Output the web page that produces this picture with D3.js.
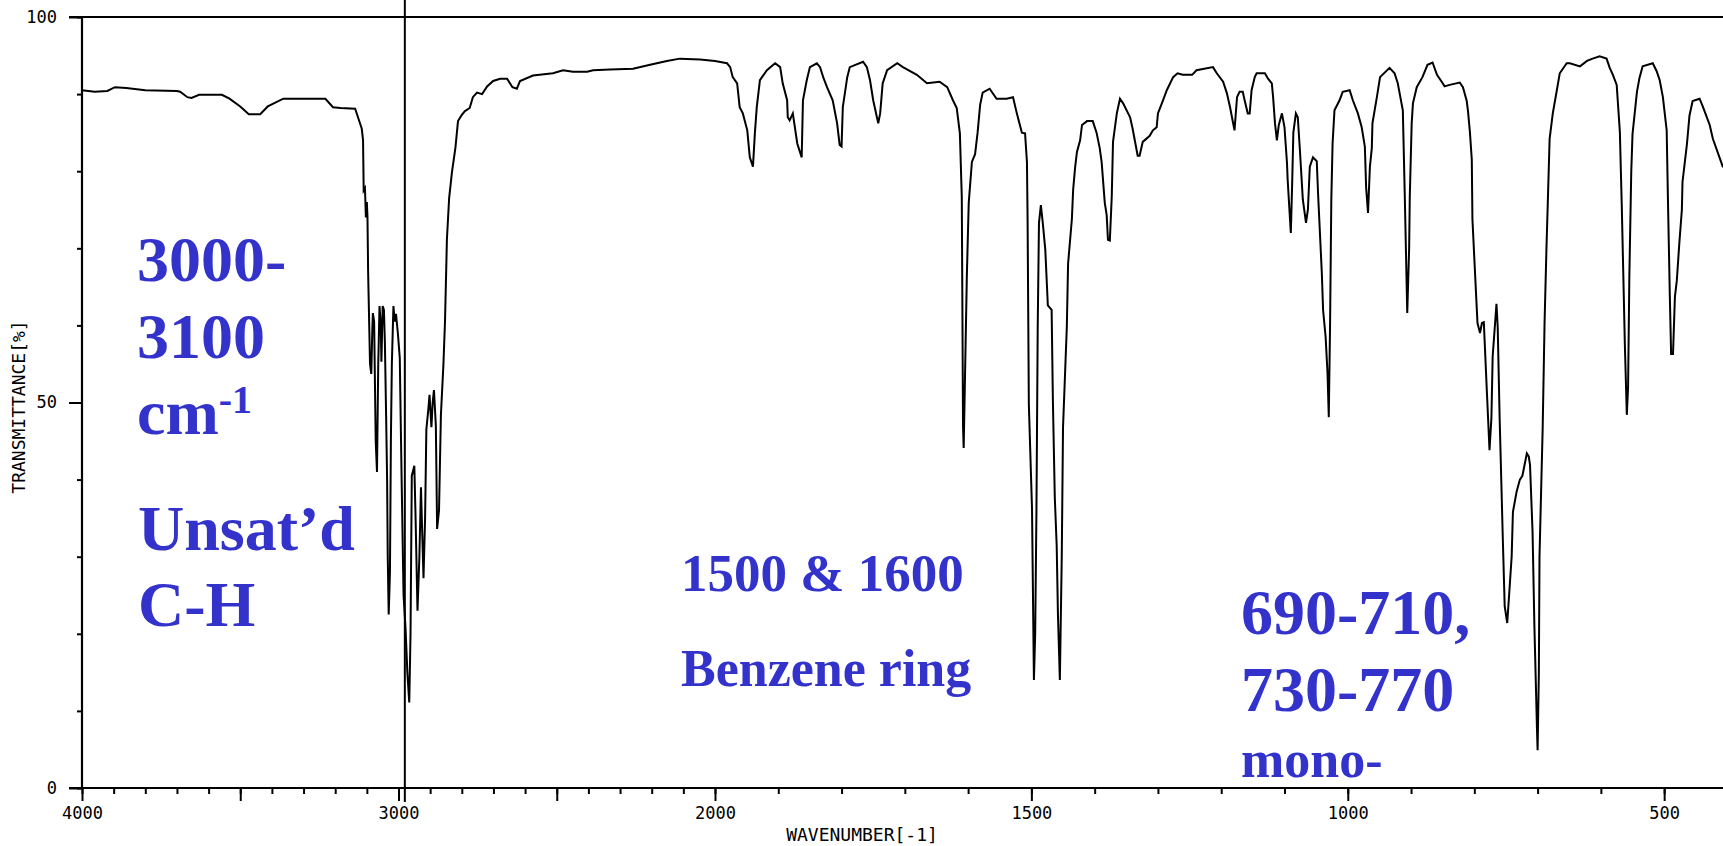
<!DOCTYPE html>
<html>
<head>
<meta charset="utf-8">
<script src="https://cdn.jsdelivr.net/npm/d3@7/dist/d3.min.js"></script>
<style>
  html, body { margin: 0; padding: 0; background: #fff; }
  svg { display: block; }
  .tick text { font-family: "DejaVu Sans Mono", monospace; font-size: 17px; fill: #000; }
  .note { font-family: "Liberation Serif", "Times New Roman", serif; font-weight: bold; fill: #3333cc; }
</style>
</head>
<body>
<svg id="chart" width="1723" height="846"></svg>
<script>
// spectrum, high -> low wavenumber
var wavenumber = [
  4000, 3960, 3920, 3896, 3860, 3800, 3700, 3690, 3667, 3654, 3630, 3558, 3534, 3500, 3473, 3437, 3413, 3364, 3231, 3207,
  3183, 3137, 3128, 3116, 3112, 3110, 3106, 3103, 3100, 3098, 3096, 3092, 3090, 3086, 3083, 3081, 3077, 3072, 3068, 3064,
  3060, 3056, 3054, 3050, 3046, 3043, 3039, 3036, 3034, 3031, 3027, 3024, 3021, 3016, 3012, 3008, 3002, 2996, 2990, 2984,
  2978, 2972, 2966, 2962, 2958, 2950, 2946, 2940, 2934, 2929, 2925, 2921, 2916, 2912, 2906, 2902, 2896, 2892, 2888, 2882,
  2878, 2872, 2866, 2858, 2853, 2847, 2840, 2831, 2820, 2812, 2800, 2790, 2775, 2765, 2752, 2736, 2720, 2701, 2679, 2657,
  2640, 2626, 2616, 2575, 2512, 2480, 2449, 2404, 2385, 2332, 2259, 2205, 2152, 2111, 2047, 2000, 1981, 1976, 1972, 1965,
  1961, 1956, 1949, 1945, 1940, 1937, 1934, 1929, 1918, 1905, 1897, 1893, 1886, 1885, 1882, 1877, 1870, 1863, 1861, 1855,
  1850, 1839, 1834, 1829, 1823, 1814, 1807, 1803, 1800, 1798, 1791, 1787, 1766, 1760, 1755, 1750, 1742, 1739, 1735, 1728,
  1712, 1703, 1681, 1665, 1645, 1633, 1624, 1618, 1613, 1610, 1608, 1607, 1605, 1602, 1599, 1594, 1589, 1585, 1581, 1577,
  1566, 1555, 1539, 1529, 1523, 1515, 1510, 1507, 1506, 1504, 1499, 1496, 1494, 1492, 1490, 1488, 1485, 1482, 1478, 1474,
  1468, 1466, 1463, 1460, 1458, 1455, 1452, 1450, 1444, 1442, 1436, 1434, 1431, 1428, 1423, 1420, 1412, 1403, 1397, 1392,
  1389, 1384, 1381, 1379, 1376, 1373, 1371, 1365, 1360, 1355, 1344, 1340, 1332, 1329, 1324, 1313, 1308, 1302, 1300, 1292,
  1286, 1276, 1269, 1261, 1246, 1239, 1213, 1207, 1197, 1191, 1186, 1183, 1179, 1175, 1171, 1166, 1163, 1158, 1155, 1152,
  1147, 1144, 1131, 1126, 1120, 1118, 1115, 1112, 1109, 1104, 1100, 1096, 1095, 1090, 1088, 1086, 1082, 1079, 1076, 1071,
  1066, 1063, 1060, 1055, 1049, 1047, 1041, 1039, 1035, 1032, 1030, 1028, 1026, 1024, 1021, 1013, 1008, 997, 992, 984,
  978, 973, 971, 968, 965, 962, 961, 954, 949, 934, 926, 921, 918, 913, 910, 906, 903, 902, 899, 897,
  891, 882, 874, 866, 859, 850, 847, 839, 823, 818, 812, 810, 807, 804, 803, 799, 795, 791, 788, 785,
  780, 776, 773, 771, 765, 763, 760, 755, 752, 748, 744, 741, 739, 733, 728, 724, 717, 714, 712, 708,
  705, 701, 700, 698, 697, 694, 692, 689, 686, 684, 681, 676, 670, 665, 654, 649, 633, 622, 613, 602,
  591, 586, 581, 575, 570, 567, 562, 559, 557, 555, 552, 550, 543, 539, 534, 518, 512, 507, 502, 496,
  494, 491, 489, 486, 483, 480, 476, 472, 471, 464, 460, 455, 444, 439, 428, 423, 407
];
var transmittance = [
  90.5, 90.3, 90.4, 90.9, 90.8, 90.5, 90.4, 90.3, 89.6, 89.5, 89.9, 89.9, 89.4, 88.4, 87.4, 87.4, 88.4, 89.4, 89.4, 88.3,
  88.2, 88.1, 87.0, 85.5, 84.0, 77.5, 77.8, 74.0, 76.0, 74.0, 67.0, 59.0, 55.0, 53.7, 59.0, 61.6, 60.5, 45.0, 41.0, 55.0,
  62.5, 60.0, 55.3, 62.5, 62.0, 57.7, 48.0, 40.0, 30.0, 22.5, 28.0, 45.3, 55.0, 62.5, 60.5, 61.5, 59.0, 55.8, 39.7, 25.0,
  20.9, 15.0, 11.1, 20.0, 40.5, 41.8, 35.0, 23.0, 30.0, 39.0, 33.0, 27.2, 35.0, 46.5, 49.0, 51.0, 46.8, 50.0, 51.6, 47.0,
  33.6, 36.0, 48.4, 55.0, 60.6, 71.2, 76.5, 79.9, 83.1, 86.5, 87.3, 87.8, 88.2, 89.6, 90.2, 90.0, 91.0, 91.7, 92.0, 92.0,
  90.9, 90.7, 91.7, 92.4, 92.7, 93.1, 92.9, 92.9, 93.1, 93.2, 93.3, 93.8, 94.3, 94.6, 94.5, 94.3, 94.0, 93.5, 92.2, 91.4,
  88.3, 87.5, 85.3, 81.8, 80.6, 84.9, 88.3, 91.8, 93.1, 94.0, 93.5, 91.4, 89.2, 87.0, 86.6, 87.5, 83.6, 81.8, 89.2, 91.8,
  93.5, 94.0, 93.5, 92.2, 90.9, 89.2, 86.2, 83.4, 83.2, 88.3, 92.2, 93.5, 94.2, 93.5, 91.8, 89.2, 86.2, 87.5, 91.4, 93.1,
  94.0, 93.5, 92.5, 91.4, 91.6, 90.9, 89.2, 88.2, 84.9, 76.7, 46.8, 44.1, 52.9, 66.4, 75.9, 81.2, 82.2, 85.0, 88.6, 90.2,
  90.7, 89.4, 89.4, 89.6, 87.5, 85.0, 84.9, 81.2, 73.8, 49.7, 36.2, 14.0, 20.0, 36.0, 59.8, 73.3, 75.6, 73.3, 69.8, 62.6,
  62.0, 50.2, 37.7, 31.4, 22.4, 14.0, 30.0, 46.8, 59.8, 68.0, 73.8, 77.6, 80.4, 82.5, 84.0, 86.0, 86.5, 86.5, 85.0, 83.0,
  81.2, 75.9, 74.3, 71.1, 71.0, 76.7, 83.8, 87.5, 89.4, 88.8, 87.0, 85.5, 82.0, 82.0, 83.8, 84.6, 85.3, 85.7, 87.5, 89.2,
  90.5, 92.2, 92.7, 92.5, 92.5, 93.1, 93.5, 92.7, 91.6, 90.1, 88.3, 87.0, 85.3, 89.6, 90.3, 90.3, 89.2, 87.5, 87.5, 90.5,
  92.2, 92.7, 92.7, 92.0, 91.4, 89.6, 86.2, 84.0, 86.0, 87.5, 85.7, 81.0, 78.9, 72.0, 78.0, 85.0, 87.5, 87.0, 83.2, 76.3,
  73.3, 75.0, 80.6, 81.8, 81.3, 77.2, 66.8, 62.0, 58.5, 53.8, 48.1, 60.0, 76.3, 83.6, 87.9, 89.2, 90.3, 90.5, 89.2, 87.5,
  85.7, 83.2, 77.9, 74.6, 80.6, 83.0, 86.2, 89.6, 92.2, 93.4, 92.7, 91.4, 90.1, 87.9, 77.2, 61.6, 70.0, 76.7, 86.2, 88.8,
  90.9, 92.2, 93.8, 94.1, 92.5, 91.4, 91.0, 91.2, 91.5, 90.9, 89.1, 87.8, 85.1, 81.5, 73.8, 67.0, 60.3, 59.0, 60.3, 60.4,
  51.1, 43.8, 48.0, 56.0, 62.8, 59.7, 48.0, 32.4, 23.6, 21.4, 26.3, 30.0, 35.8, 38.5, 40.0, 40.5, 43.4, 43.0, 41.9, 33.3,
  20.8, 7.7, 4.9, 15.0, 30.0, 40.0, 46.6, 60.3, 70.0, 75.6, 84.2, 87.5, 90.3, 92.7, 94.0, 94.0, 93.6, 94.3, 94.6, 94.9,
  94.6, 93.4, 92.5, 91.2, 85.1, 75.6, 57.2, 48.4, 52.0, 66.4, 79.9, 84.8, 90.3, 92.1, 93.6, 94.0, 93.0, 91.8, 89.6, 85.3,
  76.3, 63.7, 56.3, 56.3, 63.7, 65.8, 70.7, 75.0, 78.6, 83.5, 87.2, 89.1, 89.4, 88.4, 86.0, 84.2, 80.5
];

var xLabelled = [4000, 3000, 2000, 1500, 1000, 500];
var yLabelled = [0, 50, 100];
var markerWavenumber = 2980;
var xTitle = "WAVENUMBER[-1]";
var yTitle = "TRANSMITTANCE[%]";

(function() {
  'use strict';

  var svg = d3.select("#chart");
  var width = +svg.attr("width"),
      height = +svg.attr("height");

  // the chart is expanded x2 below 2000
  var x = d3.scaleLinear()
    .domain([4000, 2000, 407])
    .range([82, 715, width]);

  var y = d3.scaleLinear()
    .domain([0, 100])
    .range([788, 17]);

  var left = x(4000);

  // minor ticks every 100, long ones every 500
  var xMinor = d3.range(500, 4001, 100);
  var xMajor = d3.range(500, 4001, 500);

  var gx = svg.append("g")
    .attr("transform", "translate(0," + y(0) + ")");

  gx.append("g")
    .call(d3.axisBottom(x).tickValues(xMinor).tickSize(6).tickFormat(""))
    .call(function(g) { g.select(".domain").remove(); });

  gx.append("g")
    .call(d3.axisBottom(x).tickValues(xMajor).tickSize(13).tickPadding(6)
      .tickFormat(function(d) { return xLabelled.indexOf(d) >= 0 ? d : ""; }))
    .call(function(g) { g.select(".domain").remove(); });

  var gy = svg.append("g")
    .attr("transform", "translate(" + left + ",0)");

  gy.append("g")
    .call(d3.axisLeft(y).tickValues(d3.range(0, 101, 10)).tickSize(5).tickFormat(""))
    .call(function(g) { g.select(".domain").remove(); });

  gy.append("g")
    .call(d3.axisLeft(y).tickValues(yLabelled).tickSize(13).tickPadding(12))
    .call(function(g) { g.select(".domain").remove(); });

  svg.selectAll(".tick line").attr("stroke", "#000").attr("stroke-width", 2);

  // frame: bottom axis, top border, left axis
  var frame = svg.append("g").attr("stroke", "#000").attr("stroke-width", 2.2);
  frame.append("line")
    .attr("x1", left - 13).attr("x2", width)
    .attr("y1", y(0)).attr("y2", y(0));
  frame.append("line")
    .attr("x1", left - 13).attr("x2", width)
    .attr("y1", y(100)).attr("y2", y(100));
  frame.append("line")
    .attr("x1", left).attr("x2", left)
    .attr("y1", y(100)).attr("y2", y(0));

  // axis titles
  svg.append("text")
    .attr("x", 862)
    .attr("y", 841)
    .attr("text-anchor", "middle")
    .style("font-family", "DejaVu Sans Mono, monospace")
    .style("font-size", "18px")
    .text(xTitle);

  svg.append("text")
    .attr("transform", "translate(25,407) rotate(-90)")
    .attr("text-anchor", "middle")
    .style("font-family", "DejaVu Sans Mono, monospace")
    .style("font-size", "18px")
    .text(yTitle);

  // spectrum
  var line = d3.line()
    .x(function(d) { return x(d[0]); })
    .y(function(d) { return y(d[1]); });

  svg.append("path")
    .datum(d3.zip(wavenumber, transmittance))
    .attr("fill", "none")
    .attr("stroke", "#000")
    .attr("stroke-width", 2)
    .attr("stroke-linejoin", "miter")
    .attr("d", line);

  // marker line
  svg.append("line")
    .attr("x1", x(markerWavenumber)).attr("x2", x(markerWavenumber))
    .attr("y1", 0).attr("y2", y(0) + 14)
    .attr("stroke", "#000")
    .attr("stroke-width", 2);

  // annotations
  function note(tx, ty, size, txt) {
    return svg.append("text")
      .attr("class", "note")
      .attr("x", tx)
      .attr("y", ty)
      .style("font-size", size + "px")
      .text(txt);
  }

  note(137, 281, 64, "3000-");
  note(137, 358, 64, "3100");
  var cm = note(137, 434, 64, "cm");
  cm.append("tspan")
    .attr("dy", -21)
    .style("font-size", "40px")
    .text("-1");
  note(138, 550, 64, "Unsat\u2019d");
  note(138, 626, 64, "C-H");

  note(681, 591, 53, "1500 & 1600");
  note(681, 686, 52, "Benzene ring");

  note(1241, 634, 64, "690-710,");
  note(1241, 711, 64, "730-770");
  note(1241, 777, 52, "mono-");
}());
</script>
</body>
</html>
